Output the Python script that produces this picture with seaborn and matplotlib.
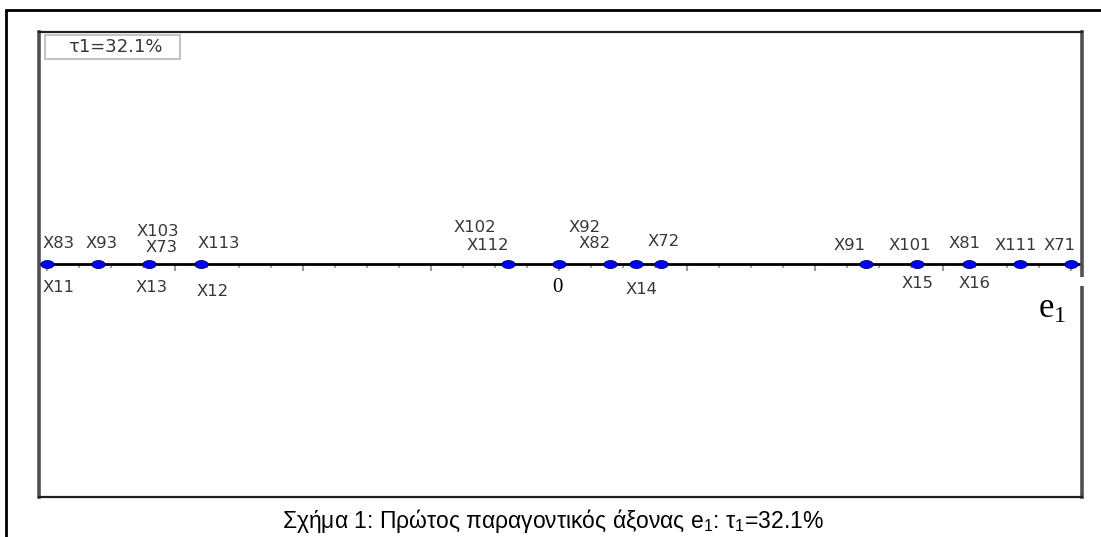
import matplotlib
matplotlib.use("Agg")
import matplotlib.pyplot as plt
from matplotlib.path import Path
from matplotlib.lines import Line2D
from matplotlib.patches import Rectangle
import numpy as np
import pandas as pd
import seaborn as sns

# ---------------- data ----------------
point_values = [-1.0, -0.9, -0.8, -0.7, -0.1, 0.0, 0.1, 0.15, 0.2, 0.6, 0.7, 0.8, 0.9, 1.0]
labels_above = ["X83", "X93", "X73", "X113", "X112", "", "X82", "", "X72", "X91", "X101", "X81", "X111", "X71"]
labels_above_2 = ["", "", "X103", "", "X102", "", "X92", "", "", "", "", "", "", ""]
labels_below = ["X11", "", "X13", "X12", "", "0", "", "X14", "", "", "X15", "X16", "", ""]
inertia_label = "τ1=32.1%"
axis_name = "e"
caption = "Σχήμα 1: Πρώτος παραγοντικός άξονας $\\mathregular{e_1}$: $\\mathregular{τ_1}$=32.1%"

# ---------------- layout (pixel offsets of labels from their point) ----------------
OFFSETS = {
    "X83": (12, -20), "X93": (3, -20), "X73": (12, -16), "X113": (18, -20),
    "X112": (-20, -19), "X82": (-16, -20), "X72": (2, -22), "X91": (-17, -18),
    "X101": (-8, -18), "X81": (-4, -21), "X111": (-4, -18), "X71": (-11, -18),
    "X103": (8, -33), "X102": (-33, -36), "X92": (-26, -36),
    "X11": (12, 24), "X13": (2, 24), "X12": (12, 28), "X14": (6, 25),
    "0": (-2, 23), "X15": (0, 19), "X16": (6, 19),
}

W, H, DPI = 1101, 537, 100
sns.set_theme(style="white")
plt.rcParams["font.family"] = ["DejaVu Sans"]

fig = plt.figure(figsize=(W / DPI, H / DPI), dpi=DPI, facecolor="white")

# inner plot box in pixels
L, R, T, B = 39, 1082, 32, 497
Y0 = 264
ax = fig.add_axes([L / W, (H - B) / H, (R - L) / W, (B - T) / H])
ax.set_facecolor("white")
ax.set_xlim((L - 559) / 512, (R - 559) / 512)
ax.set_ylim(-(B - Y0), Y0 - T)  # 1 data unit = 1 pixel vertically
ax.set_xticks([]); ax.set_yticks([])
for side in ["left", "right"]:
    ax.spines[side].set_color("#505050"); ax.spines[side].set_linewidth(2.6)
for side in ["top", "bottom"]:
    ax.spines[side].set_color("#202020"); ax.spines[side].set_linewidth(1.6)

# axis line and ticks
ax.axhline(0, color="black", lw=2, zorder=2)
minor = np.arange(-1.0, 1.01, 0.0625)
major = np.arange(-1.0, 1.01, 0.25)
ax.vlines(minor, -4, 0, color="#9a9a9a", lw=1.3, zorder=1)
ax.vlines(major, -7, 0, color="#9a9a9a", lw=1.5, zorder=1)

# points (blue ellipses)
t = np.linspace(0, 2 * np.pi, 40)
ell = Path(np.column_stack([np.cos(t), 0.6 * np.sin(t)]), closed=True)
df = pd.DataFrame({"v": point_values, "y": np.zeros(len(point_values))})
sns.scatterplot(data=df, x="v", y="y", ax=ax, marker=ell, s=90,
                color="#0000ff", edgecolor="#000066", linewidth=0.6, zorder=4, legend=False)

lab_color = "#3d3535"
for v, a, a2, b in zip(point_values, labels_above, labels_above_2, labels_below):
    for txt in (a, a2, b):
        if not txt:
            continue
        dx, dy = OFFSETS[txt]
        if txt == "0":
            ax.annotate(txt, (v, 0), xytext=(dx, -dy), textcoords="offset pixels",
                        ha="center", va="center", fontsize=15,
                        family=["Liberation Serif", "DejaVu Serif"], color="black")
        else:
            ax.annotate(txt, (v, 0), xytext=(dx, -dy), textcoords="offset pixels",
                        ha="center", va="center", fontsize=11.8, color=lab_color)

# axis name e1
ax.text(1052, H - 309, "$\\mathregular{" + axis_name + "_1}$", transform=None,
        ha="center", va="center", fontsize=25, family=["Liberation Serif", "DejaVu Serif"],
        color="black", zorder=6)
# small gap in the right border
fig.add_artist(Rectangle(((R - 3) / W, (H - 286) / H), 6 / W, 9 / H,
                         transform=fig.transFigure, facecolor="white", edgecolor="none", zorder=10))

# inertia box
fig.add_artist(Rectangle((45 / W, (H - 59) / H), 135 / W, 24 / H, transform=fig.transFigure,
                         facecolor="white", edgecolor="#c4c4c4", lw=1.5, zorder=5))
fig.text(115 / W, 1 - 47 / H, inertia_label, ha="center", va="center", fontsize=13,
         color=lab_color, zorder=6)

# outer frame (left & top only visible)
fig.add_artist(Line2D([6 / W, 6 / W], [0, 1 - 10 / H], transform=fig.transFigure, color="black", lw=2))
fig.add_artist(Line2D([6 / W, 1], [1 - 10 / H, 1 - 10 / H], transform=fig.transFigure, color="black", lw=2))

# caption
fig.text(553 / W, 1 - 521 / H, caption, ha="center", va="center", fontsize=16.5,
         family=["Liberation Sans", "DejaVu Sans"], color="black")

fig.savefig("out.png", dpi=DPI, facecolor="white")
